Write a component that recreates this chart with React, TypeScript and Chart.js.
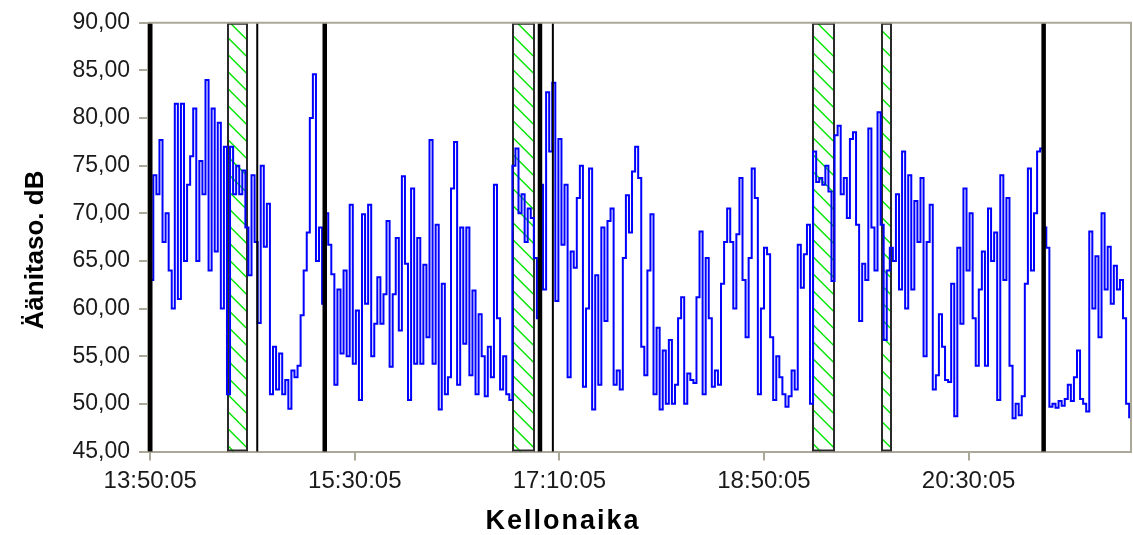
import React, { useEffect, useRef } from 'react';
import { Chart, registerables } from 'chart.js';

Chart.register(...registerables);

// Time axis: minutes after the start time 13:50:05, one reading every 1.5 minutes
const START_TIME = '13:50:05';
const SAMPLE_MINUTES = 1.5;

// Sound level readings, dB
const levelDb: number[] = [
  63, 74, 72, 77.7, 67, 70, 64, 60, 81.5, 61,
  81.5, 65, 73, 76, 81, 65, 75.5, 72, 84, 64,
  81, 66, 79.5, 60, 77, 51, 77, 72, 75, 72,
  74.5, 68.5, 63.5, 74, 67, 58.5, 75, 66.5, 71, 51,
  56, 51.5, 55.3, 51, 52.5, 49.5, 53.5, 52.8, 54, 59.3,
  64, 68, 80, 84.6, 65, 68.5, 60.5, 70, 66.7, 63.6,
  52, 62, 55.3, 64, 55, 70.9, 54.2, 59.8, 50.4, 69.9,
  60.5, 70.9, 55, 58.4, 63.3, 58.4, 61.5, 69.2, 53.9, 61.5,
  67.4, 57.7, 73.9, 64.7, 50.4, 72.6, 54.2, 67.4, 54.2, 64.6,
  57, 77.7, 54.2, 68.8, 49.4, 62.6, 51, 52.8, 72.6, 77.5,
  52, 68.5, 56.3, 68.5, 53, 61.9, 51, 59.4, 55, 50.8,
  56, 52.8, 73, 59, 51.5, 55, 51, 50.4, 75, 76.8,
  70, 72, 67, 70.5, 69.5, 65.3, 59, 73, 62, 82.7,
  76.5, 83.7, 60.8, 77.8, 66.7, 73, 52.8, 66, 64.3, 71.6,
  75, 51.8, 60, 74.7, 49.4, 63.5, 52, 68.5, 58.7, 69.2,
  70.5, 52, 53.5, 51.5, 65.3, 71.9, 68, 74.4, 77, 73.7,
  56, 53, 64, 69.9, 51, 58, 49.4, 55.6, 50, 56.7,
  50, 52, 59, 61.2, 50, 53.2, 52.5, 52.2, 61.2, 68.1,
  51, 65.3, 59, 51.8, 53.5, 52, 62.6, 67, 70.5, 67,
  60, 67.8, 73.7, 63, 57, 65.3, 74.7, 71.6, 51, 60,
  66.4, 65.7, 57, 50.4, 55, 52.8, 51, 49.7, 50.8, 53.5,
  51.5, 66.7, 62.2, 65.7, 68.8, 50, 76.5, 73.3, 73.7, 73,
  75, 72.3, 62.9, 78.2, 79.2, 72, 73.7, 69.5, 77.8, 78.5,
  68.8, 58.7, 64.7, 63, 78.9, 68.5, 64, 80.6, 68.8, 56.7,
  64, 66.4, 65, 72, 62, 76.5, 60, 74, 62, 71.3,
  67, 73.7, 55, 67, 70.9, 51.5, 53, 59.4, 56, 52.5,
  52.3, 62.6, 48.7, 66.4, 58.4, 72.6, 64, 70, 59, 54,
  62, 66, 54, 70.5, 65, 68, 50.4, 74, 63, 71.6,
  54, 48.5, 50, 48.8, 50.8, 62.6, 74.7, 64, 70, 76.5,
  76.8, 68.5, 66.4, 49.7, 50, 49.6, 50.3, 49.8, 50.5, 52,
  50.3, 52.8, 55.6, 50.5, 50, 49.2, 68.1, 60, 65.5, 57,
  70, 62, 66.5, 60.5, 64.5, 62, 63, 59, 50, 48.5,
];

// Axis ticks
const xTickMinutes = [0, 100, 200, 300, 400];
const xMinMinutes = -1.1;
const xMaxMinutes = 479.4;
const yMin = 45;
const yMax = 90;
const yStep = 5;

// Marked periods (minutes after start): hatched ranges and vertical event lines
const hatchedStart = [37.8, 177.4, 323.9, 357.5];
const hatchedEnd = [47.3, 187.8, 334.1, 362.2];
const thickMarkers = [0, 85.3, 190.5, 436.7];
const thinMarkers = [52.3, 196.8];

const Y_TITLE = 'Äänitaso. dB';
const X_TITLE = 'Kellonaika';

function timeLabel(minutes: number): string {
  const [h, m, s] = START_TIME.split(':').map(Number);
  let total = Math.round(h * 3600 + m * 60 + s + minutes * 60);
  total = ((total % 86400) + 86400) % 86400;
  const hh = Math.floor(total / 3600);
  const mm = Math.floor((total % 3600) / 60);
  const ss = total % 60;
  const p = (n: number) => String(n).padStart(2, '0');
  return `${p(hh)}:${p(mm)}:${p(ss)}`;
}

const AXIS_COLOR = '#aca899';

const markersPlugin = {
  id: 'markers',
  beforeDatasetsDraw(chart: any) {
    const { ctx, chartArea, scales } = chart;
    const xs = scales.x;
    const top = chartArea.top;
    const bottom = chartArea.bottom;
    for (let k = 0; k < hatchedStart.length; k++) {
      const l = Math.round(xs.getPixelForValue(hatchedStart[k]));
      const r = Math.round(xs.getPixelForValue(hatchedEnd[k]));
      const w = r - l;
      ctx.save();
      ctx.setLineDash([]);
      ctx.globalAlpha = 1;
      ctx.fillStyle = '#ffffff';
      ctx.fillRect(l, top, w, bottom - top);
      ctx.strokeStyle = '#00e600';
      ctx.lineWidth = 1.4;
      // diagonal hatch lines (down to the right), clipped by hand to the box
      for (let d = -w; d < bottom - top; d += 17) {
        let x0 = l;
        let y0 = top + d;
        let x1 = r;
        let y1 = top + d + w;
        if (y0 < top) {
          x0 = l + (top - y0);
          y0 = top;
        }
        if (y1 > bottom) {
          x1 = r - (y1 - bottom);
          y1 = bottom;
        }
        if (x1 <= x0) continue;
        ctx.beginPath();
        ctx.moveTo(x0, y0);
        ctx.lineTo(x1, y1);
        ctx.stroke();
      }
      ctx.strokeStyle = '#2a2a2a';
      ctx.lineWidth = 2;
      ctx.beginPath();
      ctx.rect(l, top + 1, w, bottom - top - 2);
      ctx.stroke();
      ctx.restore();
    }
  },
  afterDatasetsDraw(chart: any) {
    const { ctx, chartArea, scales } = chart;
    const xs = scales.x;
    ctx.save();
    ctx.strokeStyle = '#000000';
    thickMarkers.forEach((m) => {
      const x = xs.getPixelForValue(m);
      ctx.lineWidth = 4.5;
      ctx.beginPath();
      ctx.moveTo(x, chartArea.top);
      ctx.lineTo(x, chartArea.bottom);
      ctx.stroke();
    });
    thinMarkers.forEach((m) => {
      const x = xs.getPixelForValue(m);
      ctx.lineWidth = 2;
      ctx.beginPath();
      ctx.moveTo(x, chartArea.top);
      ctx.lineTo(x, chartArea.bottom);
      ctx.stroke();
    });
    ctx.restore();
  },
  afterDraw(chart: any) {
    const { ctx, chartArea } = chart;
    ctx.save();
    // frame top and right
    ctx.strokeStyle = AXIS_COLOR;
    ctx.lineWidth = 2;
    ctx.beginPath();
    ctx.moveTo(chartArea.left, chartArea.top);
    ctx.lineTo(chartArea.right, chartArea.top);
    ctx.lineTo(chartArea.right, chartArea.bottom);
    ctx.stroke();
    // titles
    ctx.fillStyle = '#000000';
    ctx.font = 'bold 26px "Liberation Sans", Arial, sans-serif';
    ctx.textAlign = 'center';
    ctx.textBaseline = 'alphabetic';
    ctx.save();
    ctx.translate(43, 250);
    ctx.rotate(-Math.PI / 2);
    ctx.fillText(Y_TITLE, 0, 0);
    ctx.restore();
    ctx.font = 'bold 27px "Liberation Sans", Arial, sans-serif';
    (ctx as any).letterSpacing = '2px';
    ctx.fillText(X_TITLE, 563, 529);
    (ctx as any).letterSpacing = '0px';
    ctx.restore();
  },
};

export default function App() {
  const canvasRef = useRef<HTMLCanvasElement | null>(null);

  useEffect(() => {
    if (!canvasRef.current) return;
    const points = levelDb.map((v, i) => ({ x: i * SAMPLE_MINUTES, y: v }));
    const chart = new Chart(canvasRef.current, {
      type: 'line',
      data: {
        datasets: [
          {
            label: Y_TITLE,
            data: points,
            borderColor: '#0000ff',
            borderWidth: 2,
            pointRadius: 0,
            stepped: true,
            fill: false,
          },
        ],
      },
      options: {
        animation: false,
        responsive: false,
        devicePixelRatio: 1,
        layout: { padding: { top: 19.5, right: 2, left: 0, bottom: 0 } },
        plugins: {
          legend: { display: false },
          tooltip: { enabled: false },
        },
        scales: {
          x: {
            type: 'linear',
            min: xMinMinutes,
            max: xMaxMinutes,
            afterBuildTicks: (scale: any) => {
              scale.ticks = xTickMinutes.map((v) => ({ value: v }));
            },
            afterFit: (scale: any) => {
              scale.height = 83.5;
            },
            ticks: {
              autoSkip: false,
              maxRotation: 0,
              minRotation: 0,
              padding: 6,
              color: '#1a1a1a',
              font: { family: '"Liberation Sans", Arial, sans-serif', size: 24 },
              callback: (v: any) => timeLabel(Number(v)),
            },
            grid: {
              display: true,
              drawOnChartArea: false,
              drawTicks: true,
              tickLength: 9,
              color: AXIS_COLOR,
              lineWidth: 2,
            },
            border: { display: true, color: AXIS_COLOR, width: 2 },
          },
          y: {
            type: 'linear',
            min: yMin,
            max: yMax,
            afterFit: (scale: any) => {
              scale.width = 148;
            },
            ticks: {
              stepSize: yStep,
              padding: 9,
              color: '#1a1a1a',
              font: { family: '"Liberation Sans", Arial, sans-serif', size: 23 },
              callback: (v: any) => Number(v).toFixed(2).replace('.', ','),
            },
            grid: {
              display: true,
              drawOnChartArea: false,
              drawTicks: true,
              tickLength: 9,
              color: AXIS_COLOR,
              lineWidth: 2,
            },
            border: { display: true, color: AXIS_COLOR, width: 2 },
          },
        },
      },
      plugins: [markersPlugin],
    });
    return () => chart.destroy();
  }, []);

  return (
    <div style={{ position: 'absolute', left: 0, top: 0, width: 1133, height: 535, background: '#ffffff' }}>
      <canvas ref={canvasRef} width={1133} height={535} />
    </div>
  );
}
